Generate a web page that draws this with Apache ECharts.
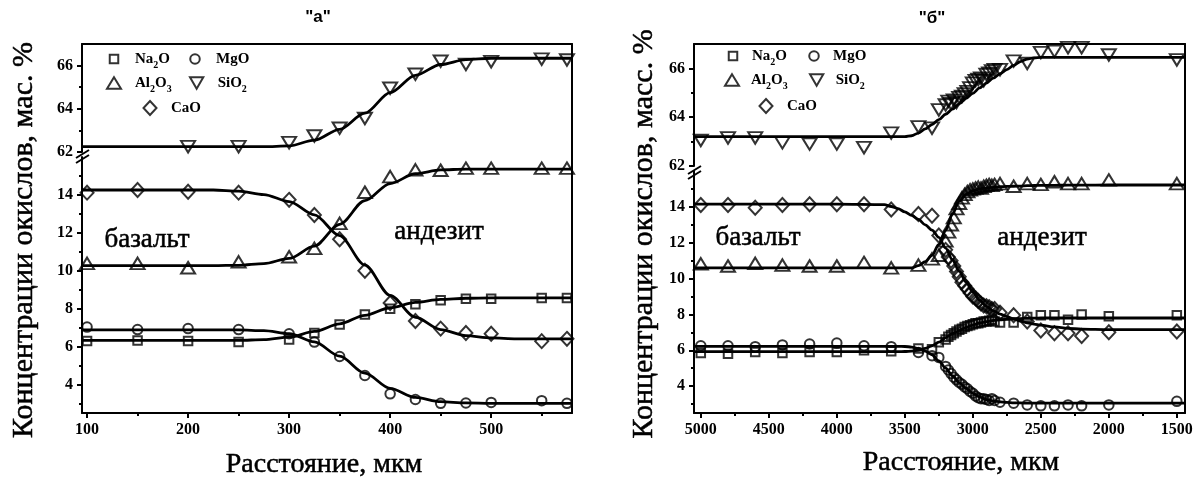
<!DOCTYPE html>
<html>
<head>
<meta charset="utf-8">
<script src="https://cdn.jsdelivr.net/npm/echarts@6/dist/echarts.min.js"></script>
<style>
  html, body { margin: 0; padding: 0; background: #fff; }
  #chart { width: 1203px; height: 483px; }
</style>
</head>
<body>
<div id="chart"></div>
<script>
// ---------- Panel "а": distance (µm) and oxide contents (wt. %) ----------
const distA   = [100, 150, 200, 250, 300, 325, 350, 375, 400, 425, 450, 475, 500, 550, 575];
const na2oA   = [6.3, 6.32, 6.3, 6.25, 6.38, 6.72, 7.17, 7.7, 8.0, 8.23, 8.44, 8.53, 8.53, 8.57, 8.57];
const mgoA    = [7.03, 6.9, 6.95, 6.9, 6.68, 6.24, 5.48, 4.48, 3.51, 3.21, 3.01, 3.03, 3.06, 3.15, 3.01];
const al2o3A  = [10.39, 10.39, 10.16, 10.47, 10.74, 11.18, 12.5, 14.14, 14.97, 15.32, 15.3, 15.41, 15.41, 15.41, 15.41];
const caoA    = [14.12, 14.26, 14.17, 14.12, 13.74, 12.94, 11.66, 10.0, 8.3, 7.35, 6.95, 6.72, 6.68, 6.29, 6.41];
const sio2A   = [null, null, 62.25, 62.25, 62.43, 62.74, 63.1, 63.55, 64.95, 65.6, 66.2, 66.05, 66.18, 66.3, 66.26];

// Fitted diffusion profiles, panel "а"
const fitDistA  = [95, 100, 125, 150, 175, 200, 225, 250, 275, 300, 325, 350, 375, 400, 425, 450, 475, 500, 525, 550, 575, 580];
const na2oFitA  = [6.33, 6.33, 6.33, 6.33, 6.33, 6.33, 6.33, 6.33, 6.37, 6.5, 6.8, 7.2, 7.65, 8.05, 8.33, 8.49, 8.55, 8.57, 8.57, 8.57, 8.57, 8.57];
const mgoFitA   = [6.88, 6.88, 6.88, 6.88, 6.88, 6.88, 6.88, 6.88, 6.84, 6.68, 6.25, 5.5, 4.6, 3.8, 3.32, 3.1, 3.03, 3.01, 3.01, 3.01, 3.01, 3.01];
const al2o3FitA = [10.27, 10.27, 10.27, 10.27, 10.27, 10.27, 10.27, 10.29, 10.38, 10.65, 11.3, 12.45, 13.7, 14.6, 15.12, 15.32, 15.36, 15.36, 15.36, 15.36, 15.36, 15.36];
const caoFitA   = [14.26, 14.26, 14.26, 14.26, 14.26, 14.26, 14.26, 14.2, 14.02, 13.65, 12.95, 11.85, 10.3, 8.7, 7.55, 6.9, 6.58, 6.46, 6.41, 6.41, 6.41, 6.41];
const sio2FitA  = [62.25, 62.25, 62.25, 62.25, 62.25, 62.25, 62.25, 62.25, 62.25, 62.28, 62.55, 63.05, 63.8, 64.75, 65.55, 66.05, 66.28, 66.34, 66.34, 66.34, 66.34, 66.34];

// ---------- Panel "б" ----------
const distB  = [5000, 4800, 4600, 4400, 4200, 4000, 3800, 3600, 3400, 3300, 3250,
                3200, 3180, 3160, 3140, 3120, 3100, 3080, 3060, 3040, 3020, 3000, 2980, 2960, 2940, 2920, 2900, 2880, 2860, 2840,
                2800, 2700, 2600, 2500, 2400, 2300, 2200, 2000, 1500];
const na2oB  = [5.85, 5.8, 5.9, 5.85, 5.9, 5.9, 6.0, 5.95, 6.1, 6.05, 6.45,
                6.6, 6.75, 6.85, 6.95, 7.05, 7.15, 7.2, 7.3, 7.35, 7.4, 7.45, 7.5, 7.5, 7.55, 7.6, 7.6, 7.65, 7.7, 7.6,
                7.55, 7.55, 7.85, 7.95, 7.95, 7.7, 8.0, 7.9, 7.95];
const mgoB   = [6.25, 6.25, 6.2, 6.3, 6.35, 6.4, 6.25, 6.2, 5.88, 5.7, 5.6,
                5.1, 4.9, 4.7, 4.5, 4.35, 4.2, 4.1, 3.95, 3.85, 3.7, 3.6, 3.45, 3.35, 3.3, 3.3, 3.25, 3.2, 3.3, 3.2,
                3.1, 3.05, 2.95, 2.9, 2.9, 2.95, 2.9, 2.95, 3.15];
const al2o3B = [10.82, 10.7, 10.85, 10.75, 10.7, 10.7, 10.9, 10.6, 10.75, 11.1, 11.3,
                12.1, 12.6, 13.0, 13.4, 13.9, 14.2, 14.5, 14.7, 14.85, 14.95, 15.0, 15.05, 15.1, 15.05, 15.15, 15.2, 15.25, 15.2, 15.25,
                15.3, 15.15, 15.3, 15.25, 15.4, 15.3, 15.3, 15.5, 15.3];
const caoB   = [14.1, 14.1, 13.95, 14.1, 14.15, 14.15, 14.15, 13.85, 13.6, 13.5, 12.4,
                11.6, 11.2, 11.0, 10.7, 10.4, 10.1, 9.8, 9.6, 9.4, 9.2, 9.0, 8.9, 8.75, 8.6, 8.5, 8.45, 8.4, 8.3, 8.3,
                8.1, 7.95, 7.6, 7.1, 6.95, 6.95, 6.8, 7.0, 7.05];
const sio2B  = [63.05, 63.15, 63.15, 62.95, 62.9, 62.9, 62.75, 63.35, 63.6, 63.55, 64.3,
                64.5, 64.65, 64.55, 64.7, 64.6, 64.8, 64.85, 64.95, 65.05, 65.2, 65.4, 65.5, 65.55, 65.6, 65.5, 65.75, 65.8, 65.9, 65.95,
                65.95, 66.3, 66.2, 66.65, 66.7, 66.85, 66.85, 66.55, 66.35];

// Fitted diffusion profiles, panel "б"
const fitDistB  = [5050, 4500, 4000, 3650, 3600, 3550, 3500, 3450, 3400, 3350, 3300, 3250, 3200, 3150, 3100, 3050, 3000,
                   2950, 2900, 2850, 2800, 2750, 2700, 2650, 2600, 2550, 2500, 2400, 2300, 2200, 2000, 1440];
const na2oFitB  = [5.92, 5.92, 5.92, 5.92, 5.92, 5.92, 5.93, 5.95, 6.0, 6.1, 6.25, 6.45, 6.7, 6.92, 7.1, 7.27, 7.4,
                   7.52, 7.6, 7.66, 7.7, 7.73, 7.75, 7.77, 7.78, 7.79, 7.8, 7.8, 7.8, 7.8, 7.8, 7.8];
const mgoFitB   = [6.22, 6.22, 6.22, 6.22, 6.22, 6.22, 6.21, 6.18, 6.1, 5.95, 5.75, 5.4, 5.0, 4.58, 4.2, 3.88, 3.6,
                   3.4, 3.25, 3.17, 3.12, 3.09, 3.07, 3.06, 3.05, 3.05, 3.05, 3.05, 3.05, 3.05, 3.05, 3.05];
const al2o3FitB = [10.6, 10.6, 10.6, 10.6, 10.6, 10.6, 10.6, 10.6, 10.72, 10.95, 11.3, 11.9, 12.7, 13.6, 14.3, 14.7, 14.9,
                   15.0, 15.05, 15.09, 15.12, 15.14, 15.15, 15.16, 15.18, 15.19, 15.2, 15.2, 15.21, 15.21, 15.22, 15.22];
const caoFitB   = [14.15, 14.15, 14.15, 14.12, 14.02, 13.9, 13.72, 13.52, 13.3, 13.0, 12.7, 12.3, 11.7, 11.05, 10.4, 9.8, 9.25,
                   8.8, 8.45, 8.2, 8.02, 7.88, 7.75, 7.63, 7.53, 7.46, 7.4, 7.3, 7.22, 7.18, 7.15, 7.15];
const sio2FitB  = [63.2, 63.2, 63.2, 63.2, 63.2, 63.2, 63.2, 63.24, 63.35, 63.52, 63.7, 63.9, 64.12, 64.33, 64.55, 64.77, 64.98,
                   65.2, 65.4, 65.6, 65.78, 65.95, 66.12, 66.28, 66.38, 66.43, 66.45, 66.45, 66.45, 66.45, 66.45, 66.45];

// ---------- Tick values ----------
const xTicksA = [100, 200, 300, 400, 500];
const xMinorA = [150, 250, 350, 450, 550];
const xTicksB = [5000, 4500, 4000, 3500, 3000, 2500, 2000, 1500];
const xMinorB = [4750, 4250, 3750, 3250, 2750, 2250, 1750];
const yTicksUpper = [62, 64, 66];
const yMinorUpper = [63, 65];
const yTicksLower = [4, 6, 8, 10, 12, 14];
const yMinorLower = [3, 5, 7, 9, 11, 13, 15];

// ---------- Text ----------
const panelTitles = ['"а"', '"б"'];
const yTitles = ['Концентрации окислов, мас. %', 'Концентрации окислов, масс. %'];
const xTitle = 'Расстояние, мкм';
const rockLabels = ['базальт', 'андезит'];

const SERIF = '"Liberation Serif", "Times New Roman", serif';
const SANS = '"Liberation Sans", Arial, sans-serif';
const INK = '#000';

const pairs = (xs, ys) => xs.map((x, i) => [x, ys[i]]).filter(p => p[1] != null);

// Axis helpers
const plain = v => String(v);
function borderX(grid, min, max, inverse) {
  return { gridIndex: grid, type: 'value', position: 'top', min, max, inverse,
    axisLine: { show: true, lineStyle: { color: INK, width: 2 } },
    axisTick: { show: false }, axisLabel: { show: false }, splitLine: { show: false } };
}
function mainX(grid, min, max, inverse, ticks) {
  return { gridIndex: grid, type: 'value', position: 'bottom', min, max, inverse,
    axisLine: { show: true, onZero: false, lineStyle: { color: INK, width: 2 } },
    axisTick: { show: true, inside: false, length: 5, customValues: ticks, lineStyle: { color: INK, width: 2 } },
    axisLabel: { show: true, customValues: ticks, margin: 9, color: INK, formatter: plain,
      fontFamily: SERIF, fontWeight: 'bold', fontSize: 16 },
    splitLine: { show: false } };
}
function minorX(grid, min, max, inverse, ticks) {
  return { gridIndex: grid, type: 'value', position: 'bottom', min, max, inverse,
    axisLine: { show: false },
    axisTick: { show: true, inside: false, length: 3, customValues: ticks, lineStyle: { color: INK, width: 2 } },
    axisLabel: { show: false }, splitLine: { show: false } };
}
function mainY(grid, min, max, ticks) {
  return { gridIndex: grid, type: 'value', position: 'left', min, max,
    axisLine: { show: true, onZero: false, lineStyle: { color: INK, width: 2 } },
    axisTick: { show: true, inside: false, length: 5, customValues: ticks, lineStyle: { color: INK, width: 2 } },
    axisLabel: { show: true, customValues: ticks, margin: 9, color: INK, formatter: plain,
      fontFamily: SERIF, fontWeight: 'bold', fontSize: 16 },
    splitLine: { show: false } };
}
function minorY(grid, min, max, ticks) {
  return { gridIndex: grid, type: 'value', position: 'left', min, max,
    axisLine: { show: false },
    axisTick: { show: true, inside: false, length: 3, customValues: ticks, lineStyle: { color: INK, width: 2 } },
    axisLabel: { show: false }, splitLine: { show: false } };
}
function rightY(grid, min, max) {
  return { gridIndex: grid, type: 'value', position: 'right', min, max,
    axisLine: { show: true, onZero: false, lineStyle: { color: INK, width: 2 } },
    axisTick: { show: false }, axisLabel: { show: false }, splitLine: { show: false } };
}

const X_A = [95, 580];
const X_B = [1440, 5050];
const Y_UP = [62, 67];
const Y_LO = [2.5, 16];

const xAxis = [
  borderX(0, X_A[0], X_A[1], false),
  mainX(1, X_A[0], X_A[1], false, xTicksA),
  minorX(1, X_A[0], X_A[1], false, xMinorA),
  borderX(2, X_B[0], X_B[1], true),
  mainX(3, X_B[0], X_B[1], true, xTicksB),
  minorX(3, X_B[0], X_B[1], true, xMinorB)
];
const yAxis = [
  mainY(0, Y_UP[0], Y_UP[1], yTicksUpper), minorY(0, Y_UP[0], Y_UP[1], yMinorUpper), rightY(0, Y_UP[0], Y_UP[1]),
  mainY(1, Y_LO[0], Y_LO[1], yTicksLower), minorY(1, Y_LO[0], Y_LO[1], yMinorLower), rightY(1, Y_LO[0], Y_LO[1]),
  mainY(2, Y_UP[0], Y_UP[1], yTicksUpper), minorY(2, Y_UP[0], Y_UP[1], yMinorUpper), rightY(2, Y_UP[0], Y_UP[1]),
  mainY(3, Y_LO[0], Y_LO[1], yTicksLower), minorY(3, Y_LO[0], Y_LO[1], yMinorLower), rightY(3, Y_LO[0], Y_LO[1])
];

// Marker shapes per oxide
const INV_TRI = 'path://M0,0L10,0L5,8.66Z';
const markers = {
  Na2O:  { symbol: 'rect', size: [8.5, 8.5] },
  MgO:   { symbol: 'circle', size: [9.5, 9.5] },
  Al2O3: { symbol: 'triangle', size: [14, 11.5] },
  SiO2:  { symbol: INV_TRI, size: [14, 11.5] },
  CaO:   { symbol: 'diamond', size: [13, 14] }
};

function scatter(name, data, xi, yi) {
  return { name, type: 'scatter', xAxisIndex: xi, yAxisIndex: yi, data,
    symbol: markers[name].symbol, symbolSize: markers[name].size,
    itemStyle: { color: 'rgba(0,0,0,0)', borderColor: INK, borderWidth: 2 },
    emphasis: { disabled: true }, z: 4 };
}
function fit(name, xs, ys, xi, yi) {
  return { name: name + ' fit', type: 'line', xAxisIndex: xi, yAxisIndex: yi, data: pairs(xs, ys),
    smooth: 0.3, smoothMonotone: 'x', showSymbol: false, symbol: 'none',
    lineStyle: { color: INK, width: 2.8 }, emphasis: { disabled: true }, silent: true, z: 3 };
}

const series = [
  // panel а
  fit('SiO2', fitDistA, sio2FitA, 0, 0), scatter('SiO2', pairs(distA, sio2A), 0, 0),
  fit('Na2O', fitDistA, na2oFitA, 1, 3), scatter('Na2O', pairs(distA, na2oA), 1, 3),
  fit('MgO', fitDistA, mgoFitA, 1, 3), scatter('MgO', pairs(distA, mgoA), 1, 3),
  fit('Al2O3', fitDistA, al2o3FitA, 1, 3), scatter('Al2O3', pairs(distA, al2o3A), 1, 3),
  fit('CaO', fitDistA, caoFitA, 1, 3), scatter('CaO', pairs(distA, caoA), 1, 3),
  // panel б
  fit('SiO2', fitDistB, sio2FitB, 3, 6), scatter('SiO2', pairs(distB, sio2B), 3, 6),
  fit('Na2O', fitDistB, na2oFitB, 4, 9), scatter('Na2O', pairs(distB, na2oB), 4, 9),
  fit('MgO', fitDistB, mgoFitB, 4, 9), scatter('MgO', pairs(distB, mgoB), 4, 9),
  fit('Al2O3', fitDistB, al2o3FitB, 4, 9), scatter('Al2O3', pairs(distB, al2o3B), 4, 9),
  fit('CaO', fitDistB, caoFitB, 4, 9), scatter('CaO', pairs(distB, caoB), 4, 9)
];

// Legend: one entry per oxide, three rows inside each panel
const legendText = { Na2O: 'Na{s|2}O', MgO: 'MgO', Al2O3: 'Al{s|2}O{s|3}', SiO2: 'SiO{s|2}', CaO: 'CaO' };
function legendEntry(name, cx, cy, gap) {
  const [w, h] = markers[name].size;
  return {
    show: true, selectedMode: false, orient: 'horizontal', padding: 0,
    left: cx - w / 2, top: cy - 11,
    itemWidth: w, itemHeight: h,
    data: [{ name, icon: markers[name].symbol }],
    itemStyle: { color: 'rgba(0,0,0,0)', borderColor: INK, borderWidth: 2 },
    formatter: n => legendText[n],
    textStyle: { fontFamily: SERIF, fontWeight: 'bold', fontSize: 15, color: INK, lineHeight: 22,
      padding: [0, 0, 0, Math.max(0, gap - w / 2 - 5)],
      rich: { s: { fontFamily: SERIF, fontWeight: 'bold', fontSize: 10, color: INK, lineHeight: 10, verticalAlign: 'bottom' } } }
  };
}
const legend = [
  legendEntry('Na2O', 113, 59, 21), legendEntry('MgO', 194, 59, 21),
  legendEntry('Al2O3', 113, 83, 21), legendEntry('SiO2', 196, 83, 21),
  legendEntry('CaO', 149, 108, 21),
  legendEntry('Na2O', 732, 56, 19), legendEntry('MgO', 813, 56, 19),
  legendEntry('Al2O3', 731, 80, 19), legendEntry('SiO2', 816, 80, 19),
  legendEntry('CaO', 765, 106, 21)
];

// Large serif captions, slightly stroked to match the heavy print weight
function label(text, x, y, size, opts) {
  return Object.assign({ type: 'text', x, y, silent: true,
    style: { text, fontFamily: SERIF, fontSize: size, fill: INK, stroke: INK, lineWidth: 0.5,
      textAlign: 'center', textVerticalAlign: 'middle' } }, opts || {});
}
function seg(x1, y1, x2, y2) {
  return { type: 'line', silent: true, shape: { x1, y1, x2, y2 }, style: { stroke: INK, lineWidth: 2 } };
}

const graphic = [
  // panel titles
  { type: 'text', x: 318, y: 17, silent: true, style: { text: panelTitles[0], fontFamily: SANS, fontWeight: 'bold', fontSize: 17, fill: INK, textAlign: 'center', textVerticalAlign: 'middle' } },
  { type: 'text', x: 932, y: 18, silent: true, style: { text: panelTitles[1], fontFamily: SANS, fontWeight: 'bold', fontSize: 17, fill: INK, textAlign: 'center', textVerticalAlign: 'middle' } },
  // axis titles
  label(yTitles[0], 24, 240, 30, { rotation: Math.PI / 2 }),
  label(yTitles[1], 644, 234, 30, { rotation: Math.PI / 2 }),
  label(xTitle, 324, 465, 28),
  label(xTitle, 961, 463, 28),
  // rock names
  label(rockLabels[0], 147, 240, 27),
  label(rockLabels[1], 439, 232, 27),
  label(rockLabels[0], 758, 238, 27),
  label(rockLabels[1], 1042, 238, 27),
  // axis breaks
  seg(76, 158, 89, 150), seg(76, 163, 89, 155),
  seg(688, 174, 701, 166), seg(688, 179, 701, 171),
  // right frame across the break
  seg(572, 151, 572, 158), seg(1185, 165, 1185, 172)
];

const chart = echarts.init(document.getElementById('chart'), null, { renderer: 'canvas' });
chart.setOption({
  animation: false,
  backgroundColor: '#fff',
  grid: [
    { left: 82, top: 44, width: 490, height: 108 },
    { left: 82, top: 157, width: 490, height: 256 },
    { left: 694, top: 44, width: 491, height: 122 },
    { left: 694, top: 171, width: 491, height: 242 }
  ],
  xAxis, yAxis, series, legend, graphic
});
</script>
</body>
</html>
